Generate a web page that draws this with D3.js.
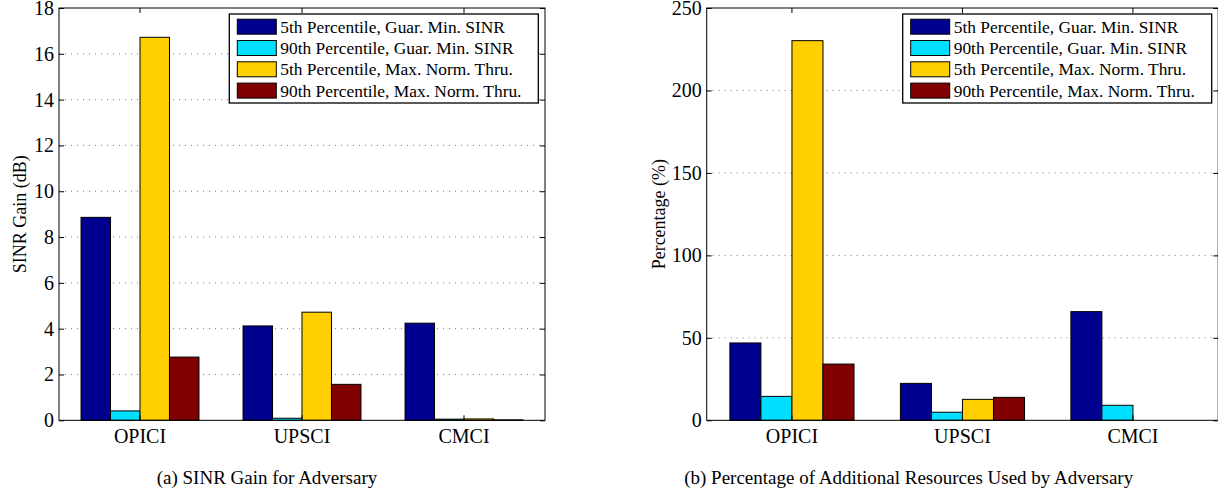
<!DOCTYPE html>
<html>
<head>
<meta charset="utf-8">
<script src="https://cdn.jsdelivr.net/npm/d3@7"></script>
<style>
  body { margin: 0; background: #fff; }
  svg { display: block; font-family: "Liberation Serif", "DejaVu Serif", serif; }
</style>
</head>
<body>
<svg width="1218" height="490"></svg>
<script>
const categories = ["OPICI", "UPSCI", "CMCI"];
const seriesNames = [
    "5th Percentile, Guar. Min. SINR",
    "90th Percentile, Guar. Min. SINR",
    "5th Percentile, Max. Norm. Thru.",
    "90th Percentile, Max. Norm. Thru."
];
const colors = ["#00008F", "#00DFFF", "#FFCF00", "#800000"];

// (a) SINR gain, dB
const gainMin5 = [8.86, 4.12, 4.24];
const gainMin90 = [0.41, 0.09, 0.05];
const gainThru5 = [16.72, 4.72, 0.06];
const gainThru90 = [2.76, 1.57, 0.02];
const gainTicks = [0, 2, 4, 6, 8, 10, 12, 14, 16, 18];

// (b) additional resources, %
const resMin5 = [46.9, 22.4, 65.9];
const resMin90 = [14.5, 4.9, 9.1];
const resThru5 = [230.2, 12.7, 0];
const resThru90 = [34.1, 13.9, 0];
const resTicks = [0, 50, 100, 150, 200, 250];

const svg = d3.select("svg");

function drawPanel(p) {

    let g = svg.append("g");

    let x = d3.scaleBand()
        .domain(categories)
        .range([p.left, p.right])
        .padding(0);

    let bw = x.bandwidth();

    let xs = d3.scaleBand()
        .domain(d3.range(4))
        .range([bw * 0.136, bw * 0.864])
        .padding(0);

    let y = d3.scaleLinear()
        .domain([0, p.ticks[p.ticks.length - 1]])
        .range([p.bottom, p.top]);

    // dotted grid
    g.selectAll(".grid")
        .data(p.ticks.slice(1, -1))
        .enter()
        .append("line")
        .attr("x1", p.left)
        .attr("x2", p.right)
        .attr("y1", d => y(d))
        .attr("y2", d => y(d))
        .attr("stroke", "#777")
        .attr("stroke-dasharray", "1,5");

    // bars
    p.series.forEach(function(vals, s) {
        g.selectAll(".bar" + s)
            .data(vals)
            .enter()
            .append("rect")
            .attr("x", (d, i) => x(categories[i]) + xs(s))
            .attr("y", d => y(d))
            .attr("width", xs.bandwidth())
            .attr("height", d => p.bottom - y(d))
            .attr("fill", colors[s])
            .attr("stroke", "#000")
            .attr("stroke-width", 1);
    });

    // axes, ticks pointing inward
    g.append("g")
        .attr("transform", "translate(" + p.left + ",0)")
        .call(d3.axisLeft(y).tickValues(p.ticks).tickSize(-5).tickPadding(5));

    g.append("g")
        .attr("transform", "translate(0," + p.bottom + ")")
        .call(d3.axisBottom(x).tickSize(-5).tickPadding(9));

    g.append("g")
        .attr("transform", "translate(" + p.right + ",0)")
        .call(d3.axisRight(y).tickValues(p.ticks).tickSize(-5).tickFormat(""));

    g.append("g")
        .attr("transform", "translate(0," + p.top + ")")
        .call(d3.axisTop(x).tickSize(-5).tickFormat(""));

    g.selectAll(".domain").remove();
    g.selectAll(".tick line").attr("stroke", "#000");
    g.selectAll(".tick text")
        .attr("fill", "#000")
        .style("font-size", "20px")
        .style("font-family", "Liberation Serif");

    g.append("rect")
        .attr("x", p.left)
        .attr("y", p.top)
        .attr("width", p.right - p.left)
        .attr("height", p.bottom - p.top)
        .attr("fill", "none")
        .attr("stroke", "#000");

    // y label
    g.append("text")
        .attr("transform", "translate(" + p.ylabelX + "," + ((p.top + p.bottom) / 2) + ") rotate(-90)")
        .attr("text-anchor", "middle")
        .attr("dy", "0.35em")
        .style("font-size", "18px")
        .text(p.ylabel);

    // caption
    g.append("text")
        .attr("x", p.captionX)
        .attr("y", 484)
        .attr("text-anchor", "middle")
        .style("font-size", "19px")
        .text(p.caption);

    // legend
    let lx = p.legendX, ly = 14;
    let leg = g.append("g");

    leg.append("rect")
        .attr("x", lx)
        .attr("y", ly)
        .attr("width", 309)
        .attr("height", 89)
        .attr("fill", "#fff")
        .attr("stroke", "#000")
        .attr("stroke-width", 1.3);

    seriesNames.forEach(function(name, s) {
        let cy = ly + 12.7 + s * 21.3;
        leg.append("rect")
            .attr("x", lx + 8)
            .attr("y", cy - 7.5)
            .attr("width", 39)
            .attr("height", 15)
            .attr("fill", colors[s])
            .attr("stroke", "#000");
        leg.append("text")
            .attr("x", lx + 51)
            .attr("y", cy + 6)
            .style("font-size", "17.4px")
            .text(name);
    });
}

drawPanel({
    left: 59, right: 545, top: 8, bottom: 420.3,
    ticks: gainTicks,
    series: [gainMin5, gainMin90, gainThru5, gainThru90],
    ylabel: "SINR Gain (dB)", ylabelX: 20,
    caption: "(a) SINR Gain for Adversary", captionX: 267,
    legendX: 229.3
});

drawPanel({
    left: 706.7, right: 1218.2, top: 8, bottom: 420.3,
    ticks: resTicks,
    series: [resMin5, resMin90, resThru5, resThru90],
    ylabel: "Percentage (%)", ylabelX: 659,
    caption: "(b) Percentage of Additional Resources Used by Adversary", captionX: 908.7,
    legendX: 902.7
});
</script>
</body>
</html>
